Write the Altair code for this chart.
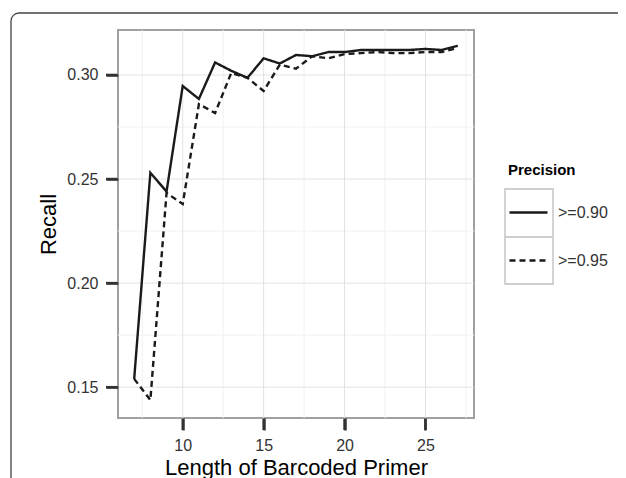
import altair as alt
import pandas as pd

lengths = list(range(7, 28))
recall_090 = [0.154, 0.253, 0.244, 0.2947, 0.2885, 0.306, 0.302, 0.2986, 0.308, 0.3055,
              0.3096, 0.309, 0.311, 0.311, 0.312, 0.312, 0.312, 0.312, 0.3125, 0.312, 0.314]
recall_095 = [0.154, 0.1438, 0.2433, 0.238, 0.286, 0.2817, 0.301, 0.2986, 0.2923, 0.305,
              0.303, 0.309, 0.308, 0.310, 0.3105, 0.311, 0.3105, 0.3105, 0.311, 0.311, 0.313]
precision_labels = [">=0.90", ">=0.95"]

x_major = [10, 15, 20, 25]
x_minor = [7.5, 12.5, 17.5, 22.5, 27.5]
y_major = [0.15, 0.20, 0.25, 0.30]
y_minor = [0.175, 0.225, 0.275]

rows = []
for i, L in enumerate(lengths):
    rows.append({"length": L, "recall": recall_090[i], "precision": precision_labels[0]})
    rows.append({"length": L, "recall": recall_095[i], "precision": precision_labels[1]})
df = pd.DataFrame(rows)

font = "Liberation Sans"
x_scale = alt.Scale(domain=[6, 28], nice=False, zero=False)
y_scale = alt.Scale(domain=[0.1352, 0.3216], nice=False, zero=False)

x_axis = alt.Axis(
    values=x_major, title="Length of Barcoded Primer",
    grid=False, domain=False,
    ticks=True, tickSize=12, tickWidth=2.5, tickColor="#333333",
    labelPadding=7, labelFontSize=16, labelColor="#333333", labelFont=font,
    titleFontSize=22, titleFont=font, titleFontWeight="normal", titleColor="#000000",
    titlePadding=4, zindex=1,
)
y_axis = alt.Axis(
    values=y_major, title="Recall", format=".2f",
    grid=False, domain=False,
    ticks=True, tickSize=12, tickWidth=2.5, tickColor="#333333",
    labelPadding=8, labelFontSize=16, labelColor="#333333", labelFont=font,
    titleFontSize=22, titleFont=font, titleFontWeight="normal", titleColor="#000000",
    titlePadding=6, zindex=1,
)

# outer figure frame (decoration)
frame = alt.Chart(pd.DataFrame({"a": [0]})).mark_rect(
    fill="transparent", stroke="#444444", strokeWidth=1.3, cornerRadius=8
).encode(x=alt.value(-107), x2=alt.value(540), y=alt.value(-17), y2=alt.value(480))

# legend key boxes (decoration, ggplot style)
key_boxes = alt.Chart(pd.DataFrame({"a": [0]})).mark_rect(
    fill="transparent", stroke="#cfcfcf", strokeWidth=1.8
).encode(x=alt.value(387), x2=alt.value(435), y=alt.value(159), y2=alt.value(207))
key_boxes2 = alt.Chart(pd.DataFrame({"a": [0]})).mark_rect(
    fill="transparent", stroke="#cfcfcf", strokeWidth=1.8
).encode(x=alt.value(387), x2=alt.value(435), y=alt.value(207), y2=alt.value(254))

# grid lines (major and minor) drawn as rules on the shared scales
grid_x_major = alt.Chart(pd.DataFrame({"v": x_major})).mark_rule(
    color="#e2e2e2", strokeWidth=1
).encode(x=alt.X("v:Q", scale=x_scale, axis=x_axis))
grid_y_major = alt.Chart(pd.DataFrame({"v": y_major})).mark_rule(
    color="#e2e2e2", strokeWidth=1
).encode(y=alt.Y("v:Q", scale=y_scale, axis=y_axis))
minor_x = alt.Chart(pd.DataFrame({"v": x_minor})).mark_rule(
    color="#f1f1f1", strokeWidth=1
).encode(x=alt.X("v:Q", scale=x_scale, axis=x_axis))
minor_y = alt.Chart(pd.DataFrame({"v": y_minor})).mark_rule(
    color="#f1f1f1", strokeWidth=1
).encode(y=alt.Y("v:Q", scale=y_scale, axis=y_axis))

# tick marks outside the panel, positioned by the scales
ticks_x = alt.Chart(pd.DataFrame({"v": x_major})).mark_rule(
    color="#333333", strokeWidth=2.5
).encode(x=alt.X("v:Q", scale=x_scale, axis=x_axis), y=alt.value(389), y2=alt.value(400))
ticks_y = alt.Chart(pd.DataFrame({"v": y_major})).mark_rule(
    color="#333333", strokeWidth=2.5
).encode(y=alt.Y("v:Q", scale=y_scale, axis=y_axis), x=alt.value(-12), x2=alt.value(-1))

lines = alt.Chart(df).mark_line(color="#1a1a1a", strokeWidth=2.4).encode(
    x=alt.X("length:Q", scale=x_scale, axis=x_axis),
    y=alt.Y("recall:Q", scale=y_scale, axis=y_axis),
    strokeDash=alt.StrokeDash(
        "precision:N",
        scale=alt.Scale(domain=precision_labels, range=[[1, 0], [6, 4]]),
        legend=alt.Legend(
            title="Precision", orient="none", legendX=390, legendY=133,
            titleFontSize=15, titleFont=font, titleFontWeight="bold", titleColor="#000000",
            titlePadding=14, labelFontSize=16, labelFont=font, labelColor="#333333",
            symbolType="stroke", symbolSize=1444, symbolStrokeWidth=2.4,
            symbolStrokeColor="#1a1a1a", labelOffset=9, rowPadding=19,
        ),
    ),
    detail="precision:N",
)

chart = alt.layer(frame, minor_x, minor_y, grid_x_major, grid_y_major,
                  key_boxes, key_boxes2, ticks_x, ticks_y, lines).properties(
    width=356, height=388,
    autosize=alt.AutoSizeParams(type="none"),
    padding={"left": 110, "top": 22, "right": 144, "bottom": 60},
).configure_view(stroke="#a0a0a0", strokeWidth=2)

chart.save("out.html", embed_options={"renderer": "svg", "actions": False})
